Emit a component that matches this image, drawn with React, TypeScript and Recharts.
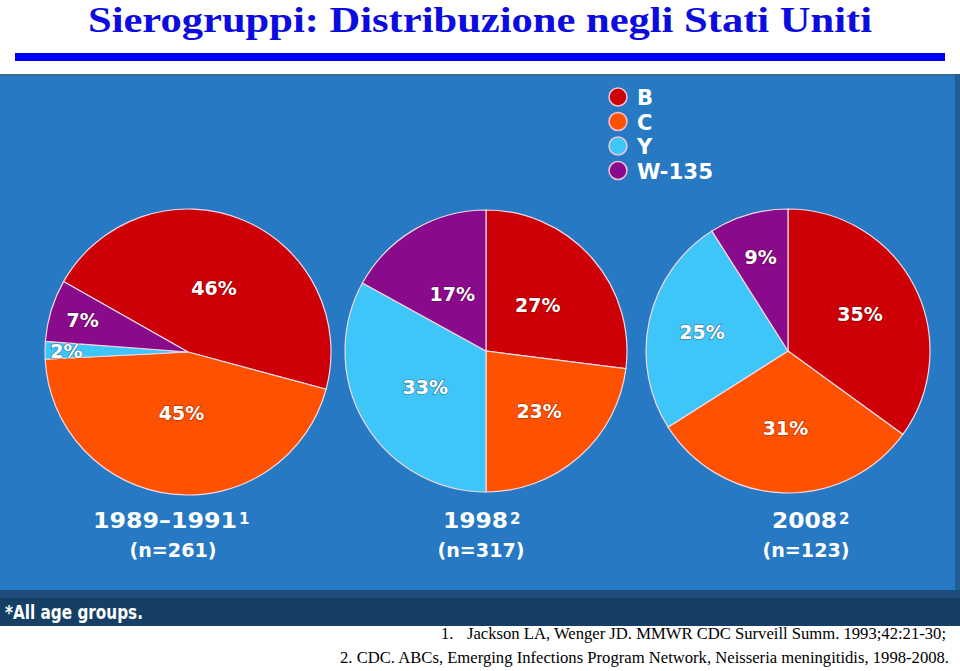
import { PieChart, Pie, Cell } from 'recharts';

// serogroup shares (%) by surveillance period, same order as SEROGROUPS
const SEROGROUPS = ['B', 'C', 'Y', 'W-135'];
const PERIODS = ['1989–1991', '1998', '2008'];
const SOURCES = ['1', '2', '2'];
const SAMPLE_SIZES = [261, 317, 123];
const SHARE_1989_1991 = [46, 45, 2, 7];
const SHARE_1998 = [27, 23, 33, 17];
const SHARE_2008 = [35, 31, 25, 9];

const SHARES = [SHARE_1989_1991, SHARE_1998, SHARE_2008];

const COLOUR: Record<string, string> = {
  'B': '#cc0006',
  'C': '#ff5200',
  'Y': '#3ec6f8',
  'W-135': '#8a0a8c',
};

// layout of the three pies on the slide
const PIE_LAYOUT = [
  { cx: 188, cy: 352, r: 143, start: 150.5 },
  { cx: 486, cy: 351, r: 141, start: 90 },
  { cx: 788, cy: 351, r: 142, start: 90 },
];

// caption placement under each pie: left edge + width of the year, centre of the n line
const CAPTION_LAYOUT = [
  { x: 93, w: 144, nX: 173 },
  { x: 443, w: 65, nX: 481 },
  { x: 772, w: 65, nX: 806 },
];

// how far out (fraction of radius) each percentage sits, per pie / slice
const LABEL_RADIUS = [
  [0.48, 0.43, 0.85, 0.77],
  [0.49, 0.57, 0.5, 0.47],
  [0.57, 0.54, 0.62, 0.69],
];

const RAD = Math.PI / 180;
const LABEL_FONT = '"DejaVu Sans", Verdana, sans-serif';
const SERIF = '"Liberation Serif", "Times New Roman", serif';

const pctLabel = (k: number) => (props: any) => {
  const { cx, cy, midAngle, outerRadius, value, index } = props;
  const r = outerRadius * LABEL_RADIUS[k][index];
  const x = cx + r * Math.cos(-midAngle * RAD);
  const y = cy + r * Math.sin(-midAngle * RAD);
  return (
    <text
      x={x}
      y={y}
      textAnchor="middle"
      dominantBaseline="central"
      fill="#ffffff"
      fontFamily={LABEL_FONT}
      fontWeight="bold"
      fontSize={19}
      style={{ paintOrder: 'stroke' }}
      stroke="rgba(60,0,0,0.35)"
      strokeWidth={1.5}
    >
      {value}%
    </text>
  );
};

function Backdrop() {
  return (
    <svg width={960} height={671} style={{ position: 'absolute', left: 0, top: 0 }}>
      <rect x={0} y={0} width={960} height={671} fill="#ffffff" />
      <text
        x={88}
        y={32}
        textLength={784}
        lengthAdjust="spacingAndGlyphs"
        fontFamily={SERIF}
        fontWeight="bold"
        fontSize={36}
        fill="#0c0ce0"
      >
        Sierogruppi: Distribuzione negli Stati Uniti
      </text>
      <rect x={15} y={53} width={930} height={8} fill="#0000f2" />

      {/* slide panel */}
      <rect x={0} y={74} width={960} height={552} fill="#2679c2" />
      <rect x={0} y={74} width={960} height={2} fill="#3a6790" />
      <rect x={955} y={74} width={5} height={552} fill="#1f5f96" />
      <rect x={0} y={590} width={960} height={8} fill="#1d4c78" />
      <rect x={0} y={598} width={960} height={28} fill="#163f66" />
      <text
        x={5}
        y={619}
        textLength={138}
        lengthAdjust="spacingAndGlyphs"
        fontFamily={LABEL_FONT}
        fontWeight="bold"
        fontSize={19}
        fill="#ffffff"
      >
        *All age groups.
      </text>

      {/* legend */}
      {SEROGROUPS.map((s, i) => (
        <g key={s}>
          <circle cx={618} cy={97 + i * 24.5} r={9} fill={COLOUR[s]} stroke="#f0c4d8" strokeWidth={1.5} />
          <text
            x={637}
            y={105 + i * 24.5}
            fontFamily={LABEL_FONT}
            fontWeight="bold"
            fontSize={21}
            fill="#ffffff"
            textLength={s === 'W-135' ? 76 : undefined}
            lengthAdjust="spacingAndGlyphs"
          >
            {s}
          </text>
        </g>
      ))}

      {/* period captions */}
      {CAPTION_LAYOUT.map((c, i) => (
        <g key={PERIODS[i]} fill="#ffffff" fontFamily={LABEL_FONT} fontWeight="bold">
          <text x={c.x} y={528} fontSize={21} textLength={c.w} lengthAdjust="spacingAndGlyphs">
            {PERIODS[i]}
          </text>
          <text x={c.x + c.w + 2} y={524} fontSize={15}>
            {SOURCES[i]}
          </text>
          <text
            x={c.nX}
            y={557}
            textAnchor="middle"
            fontSize={20}
            textLength={87}
            lengthAdjust="spacingAndGlyphs"
          >
            (n={SAMPLE_SIZES[i]})
          </text>
        </g>
      ))}

      {/* references */}
      <g fontFamily={SERIF} fontSize={16.5} fill="#000000">
        <text x={441} y={639}>1.</text>
        <text x={467} y={639} textLength={479} lengthAdjust="spacingAndGlyphs">
          Jackson LA, Wenger JD. MMWR CDC Surveill Summ. 1993;42:21-30;
        </text>
        <text x={340} y={663} textLength={609} lengthAdjust="spacingAndGlyphs">
          2. CDC. ABCs, Emerging Infections Program Network, Neisseria meningitidis, 1998-2008.
        </text>
      </g>
    </svg>
  );
}

export default function App() {
  const pies = SHARES.map(values =>
    SEROGROUPS.map((name, i) => ({ name, value: values[i] })),
  );

  return (
    <div style={{ position: 'absolute', left: 0, top: 0, width: 960, height: 671, overflow: 'hidden' }}>
      <Backdrop />
      <div style={{ position: 'absolute', left: 0, top: 0 }}>
        <PieChart width={960} height={671} margin={{ top: 0, right: 0, bottom: 0, left: 0 }}>
          {pies.map((data, k) => {
            const p = PIE_LAYOUT[k];
            return (
              <Pie
                key={PERIODS[k]}
                data={data}
                dataKey="value"
                nameKey="name"
                cx={p.cx}
                cy={p.cy}
                outerRadius={p.r}
                startAngle={p.start}
                endAngle={p.start - 360}
                stroke="#f2d8e6"
                strokeWidth={1.2}
                label={pctLabel(k)}
                labelLine={false}
                isAnimationActive={false}
              >
                {data.map(d => (
                  <Cell key={d.name} fill={COLOUR[d.name]} />
                ))}
              </Pie>
            );
          })}
        </PieChart>
      </div>
    </div>
  );
}
